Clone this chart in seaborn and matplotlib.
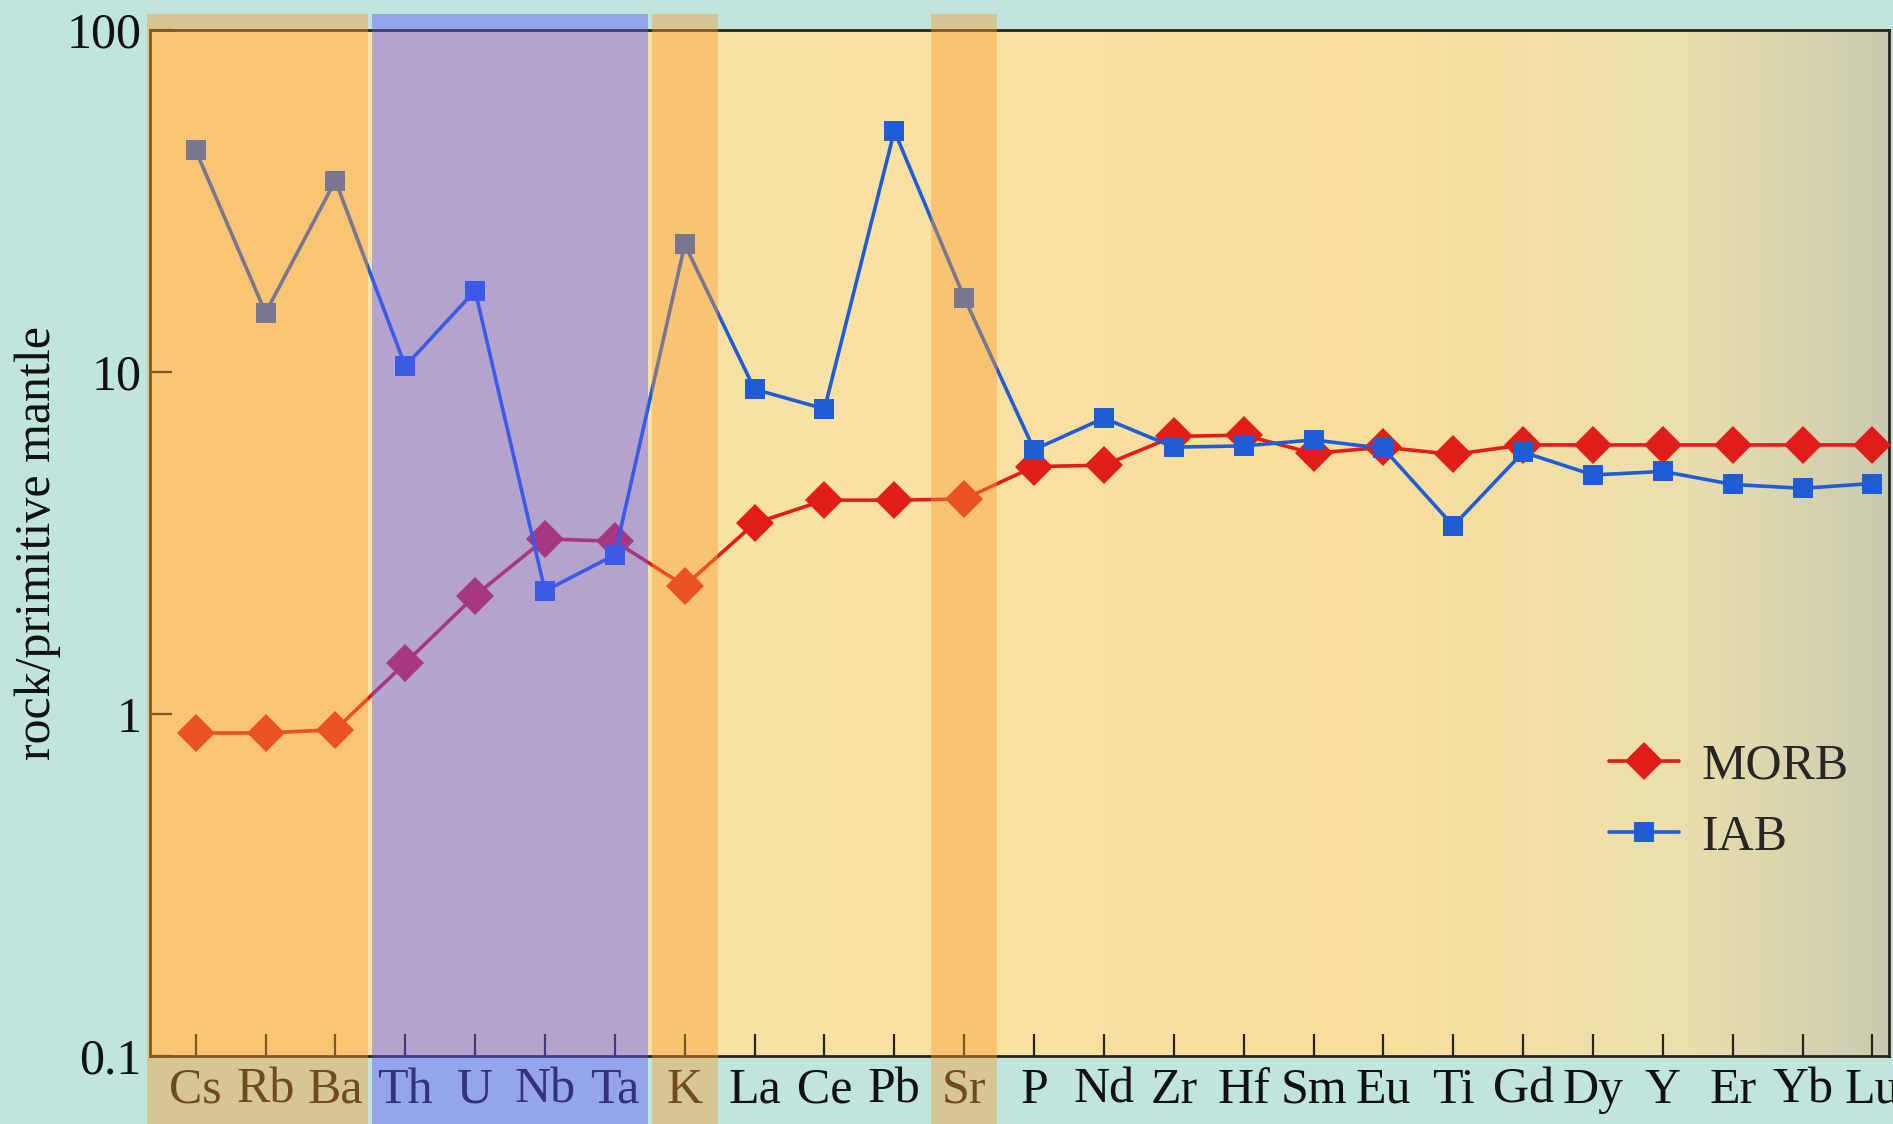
import pandas as pd
import seaborn as sns
import matplotlib.pyplot as plt
import numpy as np
from matplotlib.ticker import NullLocator, FixedLocator, FixedFormatter
from matplotlib.colors import LinearSegmentedColormap

# Trace elements (primitive-mantle normalised spider diagram)
elements = ["Cs", "Rb", "Ba", "Th", "U", "Nb", "Ta", "K", "La", "Ce", "Pb", "Sr",
            "P", "Nd", "Zr", "Hf", "Sm", "Eu", "Ti", "Gd", "Dy", "Y", "Er", "Yb", "Lu"]

morb = [0.88, 0.88, 0.90, 1.41, 2.22, 3.25, 3.20, 2.37, 3.61, 4.22, 4.22, 4.25,
        5.29, 5.34, 6.48, 6.54, 5.78, 6.03, 5.74, 6.12, 6.12, 6.12, 6.12, 6.12, 6.12]

iab = [44.5, 14.9, 36.3, 10.4, 17.3, 2.29, 2.92, 23.6, 8.9, 7.8, 50.7, 16.5,
       5.93, 7.33, 6.03, 6.08, 6.33, 5.98, 3.55, 5.83, 5.0, 5.12, 4.69, 4.57, 4.72]

# highlighted element groups (first, last element of each band) and band colours
bands = [("Cs", "Ba", "orange"), ("Th", "Ta", "purple"), ("K", "K", "orange"), ("Sr", "Sr", "orange")]
band_colors = {"orange": (248 / 255, 157 / 255, 49 / 255), "purple": (97 / 255, 89 / 255, 1.0)}

yticks = [0.1, 1, 10, 100]
ytick_labels = ["0.1", "1", "10", "100"]

df = pd.DataFrame({"pos": np.arange(len(elements)), "element": elements,
                   "MORB": morb, "IAB": iab})

sns.set_style("ticks")
plt.rcParams["font.family"] = ["Liberation Serif", "DejaVu Serif"]

fig = plt.figure(figsize=(18.93, 11.24), dpi=100, facecolor="#bfe5dc")
ax = fig.add_axes([0.0792, 0.0605, 0.9188, 0.9128])
ax.set_facecolor("#f8de9a")

# page shading of the scan: cream fading to grey-green at the right edge
shade = LinearSegmentedColormap.from_list("page", ["#f9e2a6", "#f8de9a", "#ece0ac", "#c9cbb0"])
ax.imshow(np.linspace(0, 1, 256)[None, :] ** 3, cmap=shade, aspect="auto",
          extent=(0, 1, 0, 1), transform=ax.transAxes, zorder=0)

sns.lineplot(data=df, x="pos", y="MORB", ax=ax, color="#e01d1a", marker="D",
             markersize=19, markeredgewidth=0, linewidth=2.6, label="MORB", zorder=3)
sns.lineplot(data=df, x="pos", y="IAB", ax=ax, color="#1f5cd6", marker="s",
             markersize=15, markeredgewidth=0, linewidth=2.6, label="IAB", zorder=3)

ax.set_yscale("log")
ax.set_ylim(0.1, 100)
ax.set_xlim(-0.655, 24.24)
ax.yaxis.set_major_locator(FixedLocator(yticks))
ax.yaxis.set_major_formatter(FixedFormatter(ytick_labels))
ax.yaxis.set_minor_locator(NullLocator())
ax.set_xticks(df["pos"])
ax.set_xticklabels(elements)

ax.tick_params(axis="both", direction="in", length=16, width=1.6, colors="#2a2418",
               labelsize=36, labelcolor="#111111")
ax.tick_params(axis="x", pad=8)
ax.tick_params(axis="y", pad=6)
for s in ax.spines.values():
    s.set_color("#2a2418")
    s.set_linewidth(2.0)

ax.set_xlabel("")
ax.set_ylabel("rock/primitive mantle", fontsize=36, color="#111111", labelpad=4)

# translucent bands over the element groups (drawn on top, incl. tick labels)
for first, last, cname in bands:
    x0 = elements.index(first) - 0.5
    x1 = elements.index(last) + 0.5
    if first == "Cs":
        x0 = -0.72
    ax.axvspan(x0 + 0.03, x1 - 0.03, ymin=-0.07, ymax=1.016, color=band_colors[cname],
               alpha=0.42 if cname == "orange" else 0.45, lw=0, zorder=10, clip_on=False)

leg = ax.legend(loc="center left", bbox_to_anchor=(0.839, 0.248), frameon=False,
                fontsize=36, handlelength=1.4, handletextpad=0.45, labelspacing=0.5,
                borderpad=0, borderaxespad=0)

fig.savefig("out.png", dpi=100, facecolor=fig.get_facecolor())
